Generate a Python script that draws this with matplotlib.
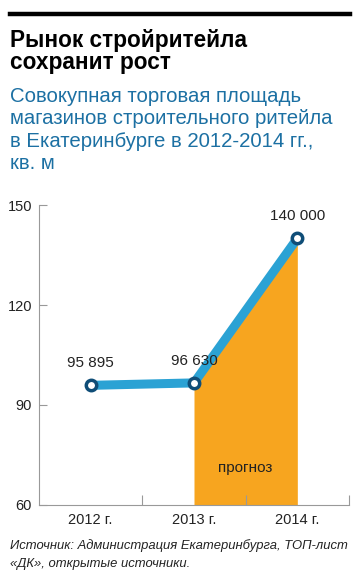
import matplotlib
matplotlib.use("Agg")
import matplotlib.pyplot as plt
from matplotlib.lines import Line2D

years = ["2012 г.", "2013 г.", "2014 г."]
values = [95.895, 96.630, 140.000]
value_labels = ["95 895", "96 630", "140 000"]
yticks = [60, 90, 120, 150]

W, H = 358, 582
fig = plt.figure(figsize=(W / 100, H / 100), dpi=100)
fig.patch.set_facecolor("white")

def fx(px):
    return px / W

def fy(py):
    return 1 - py / H

# top rule
fig.add_artist(Line2D([fx(10), fx(350)], [fy(14), fy(14)], color="black", lw=3.2))

title_font = dict(family=["Liberation Sans", "DejaVu Sans"], fontweight="bold")
fig.text(fx(10), fy(47), "Рынок стройритейла", fontsize=16.3, color="black", va="baseline", **title_font)
fig.text(fx(10), fy(69), "сохранит рост", fontsize=16.3, color="black", va="baseline", **title_font)

sub = ["Совокупная торговая площадь", "магазинов строительного ритейла",
       "в Екатеринбурге в 2012-2014 гг.,", "кв. м"]
for i, s in enumerate(sub):
    fig.text(fx(10), fy(102 + 22.4 * i), s, fontsize=14.7, color="#1c70a3",
             va="baseline", family=["Liberation Sans", "DejaVu Sans"])

ax = fig.add_axes([fx(39), fy(505), fx(349) - fx(39), fy(205) - fy(505)])
x = list(range(len(years)))

ax.fill_between(x[1:], values[1:], 60, color="#f7a51f", lw=0, zorder=1)
ax.plot(x, values, color="#2ba2d4", lw=6.5, solid_capstyle="butt", zorder=2)
ax.plot(x, values, ls="none", marker="o", ms=7.5, mfc="white", mec="#0f4d77", mew=2.5, zorder=3)

for xi, v, lab in zip(x, values, value_labels):
    ax.annotate(lab, (xi, v), xytext=(0, 11), textcoords="offset points", ha="center",
                va="bottom", fontsize=11, color="#222222", family=["Liberation Sans", "DejaVu Sans"])

ax.text(1.5, 71, "прогноз", ha="center", va="center", fontsize=11, color="#222222",
        family=["Liberation Sans", "DejaVu Sans"])

ax.set_xlim(-0.5, 2.5)
ax.set_ylim(60, 150)
ax.set_yticks(yticks)
ax.set_yticklabels([str(t) for t in yticks], fontsize=10.5, color="#222222",
                   family=["Liberation Sans", "DejaVu Sans"])
ax.set_xticks([0.5, 1.5, 2.5])
ax.set_xticklabels([])
ax.set_xticks(x, minor=True)
ax.set_xticklabels(years, minor=True, fontsize=10.5, color="#222222",
                   family=["Liberation Sans", "DejaVu Sans"])
ax.tick_params(axis="y", direction="in", length=6, width=0.8, color="#999999", pad=5)
ax.tick_params(axis="x", which="major", direction="in", length=7, width=0.8, color="#999999")
ax.tick_params(axis="x", which="minor", length=0, pad=6)
for s in ["top", "right"]:
    ax.spines[s].set_visible(False)
for s in ["left", "bottom"]:
    ax.spines[s].set_color("#999999")
    ax.spines[s].set_linewidth(0.8)
ax.set_facecolor("none")

src_font = dict(family=["Liberation Sans", "DejaVu Sans"], style="italic")
fig.text(fx(10), fy(549), "Источник: Администрация Екатеринбурга, ТОП-лист",
         fontsize=9.4, color="#222222", va="baseline", **src_font)
fig.text(fx(10), fy(567), "«ДК», открытые источники.",
         fontsize=9.4, color="#222222", va="baseline", **src_font)

fig.savefig("out.png", dpi=100, facecolor="white")
